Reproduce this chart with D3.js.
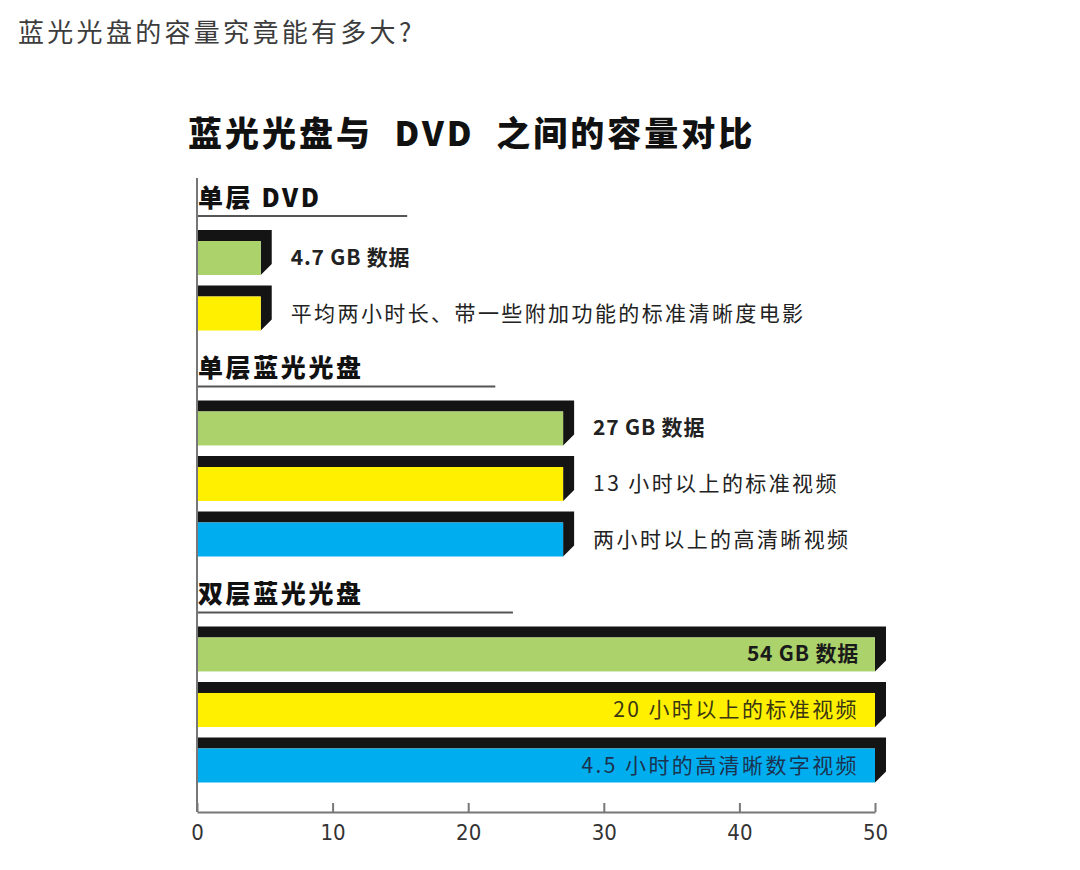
<!DOCTYPE html>
<html>
<head>
<meta charset="utf-8">
<script src="https://cdn.jsdelivr.net/npm/d3@7"></script>
<style>
  body { margin: 0; background: #fff; }
  svg { display: block; font-family: "Noto Sans CJK SC", "Noto Sans", sans-serif; }
</style>
</head>
<body>
<svg id="chart" width="1080" height="870"></svg>
<script>
// chart values
const pageTitle = "蓝光光盘的容量究竟能有多大?";
const chartTitle = "蓝光光盘与 DVD 之间的容量对比";
const groupNames = ["单层 DVD", "单层蓝光光盘", "双层蓝光光盘"];
const groupRuleEnds = [15.5, 22, 23.3]; // underline length, in axis units
const barGroups = [0, 0, 1, 1, 1, 2, 2, 2];
const barValues = [4.7, 4.7, 27, 27, 27, 54, 54, 54];
const barKinds = ["data", "sd", "data", "sd", "hd", "data", "sd", "hd"];
const barLabels = [
  "4.7 GB 数据",
  "平均两小时长、带一些附加功能的标准清晰度电影",
  "27 GB 数据",
  "13 小时以上的标准视频",
  "两小时以上的高清晰视频",
  "54 GB 数据",
  "20 小时以上的标准视频",
  "4.5 小时的高清晰数字视频"
];
const xTicks = [0, 10, 20, 30, 40, 50];

const kindFill = { data: "#acd36b", sd: "#fff000", hd: "#00aeef" };
const kindText = { data: "#1a1a1a", sd: "#3a3712", hd: "#1b3350" };

const svg = d3.select("#chart");

const x = d3.scaleLinear().domain([0, 50]).range([197, 875]);

// slot layout: bars one slot apart, extra gap between groups
const groupGap = 1.07;
const slots = barGroups.map((g, i) => i + g * groupGap);
const y = d3.scaleLinear().domain([0, d3.max(slots)]).range([258, 765.5]);
const faceH = 34;
const depth = 11;

// page heading
svg.append("text")
  .attr("x", 18).attr("y", 42)
  .attr("font-size", 26)
  .attr("letter-spacing", 3.3)
  .attr("fill", "#3c3c3c")
  .text(pageTitle);

// chart title
svg.append("text")
  .attr("x", 188).attr("y", 146)
  .attr("font-size", 34)
  .attr("font-weight", 900)
  .attr("letter-spacing", 3)
  .attr("fill", "#111")
  .attr("xml:space", "preserve")
  .text(chartTitle.replace(/ /g, "  "));

// group headers
groupNames.forEach((name, g) => {
  const first = barGroups.indexOf(g);
  const ruleY = y(slots[first]) - 42;
  svg.append("line")
    .attr("x1", x(0)).attr("x2", x(groupRuleEnds[g]))
    .attr("y1", ruleY).attr("y2", ruleY)
    .attr("stroke", "#555").attr("stroke-width", 2);
  svg.append("text")
    .attr("x", x(0) + 1).attr("y", ruleY - 9)
    .attr("font-size", 25)
    .attr("font-weight", 900)
    .attr("letter-spacing", 2.6)
    .attr("fill", "#111")
    .text(name);
});

// bars
const bars = svg.append("g").selectAll("g")
  .data(barValues.map((v, i) => ({ v, i, kind: barKinds[i], label: barLabels[i] })))
  .join("g");

bars.append("path")
  .attr("fill", "#141414")
  .attr("d", d => {
    const x0 = x(0), x1 = x(Math.min(d.v, 50));
    const y0 = y(slots[d.i]) - faceH / 2, y1 = y0 + faceH;
    return `M${x0},${y0 - depth}H${x1 + depth}V${y1 - depth}L${x1},${y1}V${y0}H${x0}Z`;
  });

bars.append("rect")
  .attr("x", x(0))
  .attr("y", d => y(slots[d.i]) - faceH / 2)
  .attr("width", d => x(Math.min(d.v, 50)) - x(0))
  .attr("height", faceH)
  .attr("fill", d => kindFill[d.kind]);

bars.append("text")
  .attr("x", d => d.v > 50 ? x(50) - 16 : x(d.v) + depth + 19)
  .attr("y", d => y(slots[d.i]) - 2)
  .attr("dominant-baseline", "central")
  .attr("text-anchor", d => d.v > 50 ? "end" : "start")
  .attr("font-size", 21)
  .attr("letter-spacing", d => d.kind === "data" ? 0.8 : 2.4)
  .attr("font-weight", d => d.kind === "data" ? 700 : 400)
  .attr("fill", d => d.v > 50 ? kindText[d.kind] : "#222")
  .text(d => d.label);

// y axis line
svg.append("line")
  .attr("x1", x(0)).attr("x2", x(0))
  .attr("y1", 178).attr("y2", 812)
  .attr("stroke", "#777").attr("stroke-width", 2);

// x axis
const xAxis = svg.append("g")
  .attr("transform", "translate(0,812)")
  .call(d3.axisBottom(x).tickValues(xTicks).tickSizeInner(-9).tickSizeOuter(0).tickPadding(12));
xAxis.select(".domain").attr("stroke", "#777").attr("stroke-width", 2);
xAxis.selectAll(".tick line").attr("stroke", "#777").attr("stroke-width", 2);
xAxis.selectAll(".tick text")
  .attr("font-size", 22)
  .attr("font-family", "'Liberation Sans Narrow', 'DejaVu Sans Condensed', sans-serif")
  .attr("fill", "#333");
</script>
</body>
</html>
